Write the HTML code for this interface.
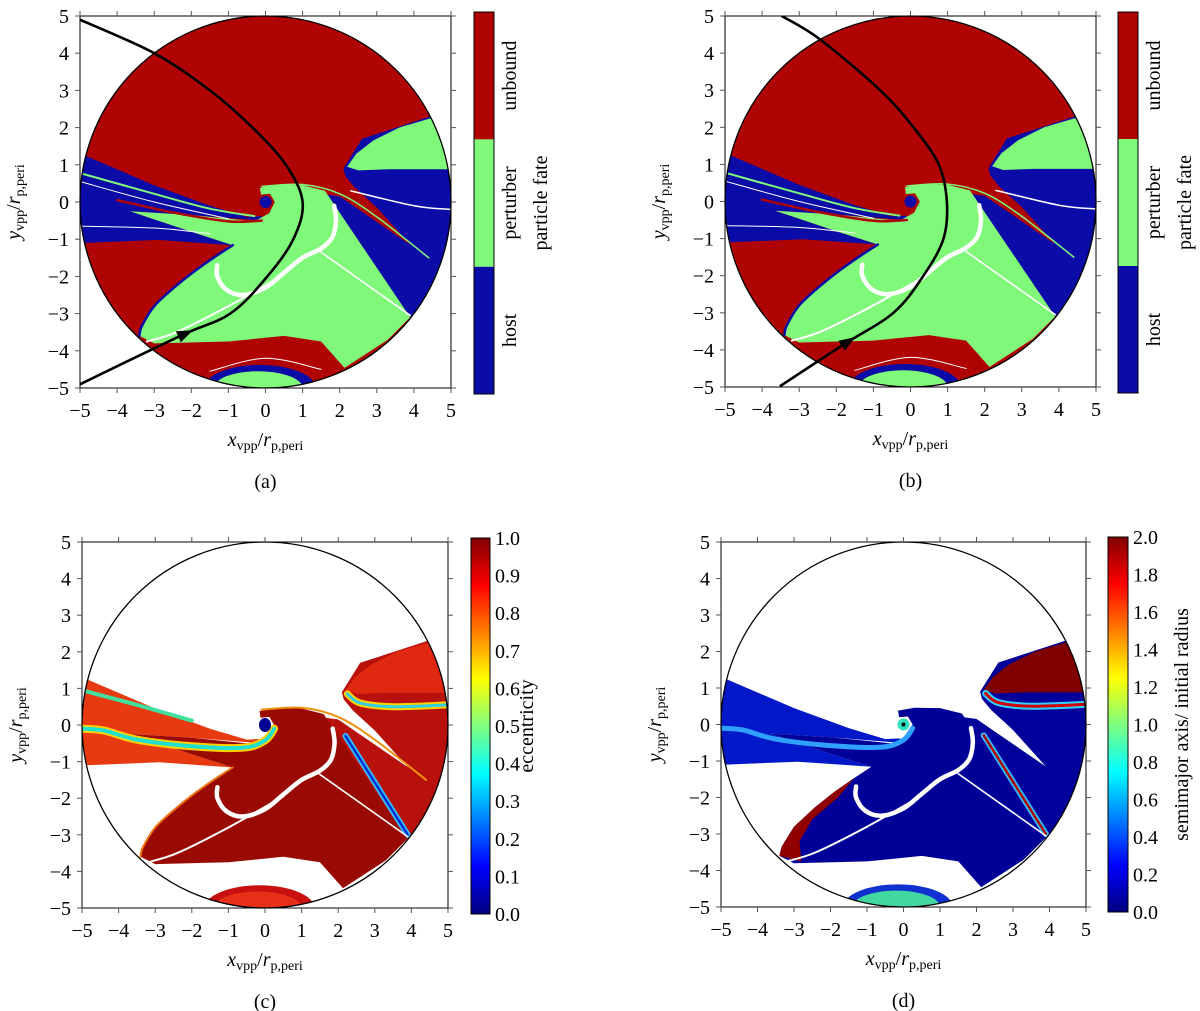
<!DOCTYPE html>
<html><head><meta charset="utf-8"><style>
html,body{margin:0;padding:0;background:#fff;width:1200px;height:1011px;overflow:hidden}
svg{display:block;font-family:"Liberation Serif","DejaVu Serif",serif}
svg text{font-family:"Liberation Serif","DejaVu Serif",serif;fill:#000}
</style></head><body>
<svg id="fig" xmlns="http://www.w3.org/2000/svg" width="1200" height="1011" viewBox="0 0 1200 1011" font-family="Liberation Serif, DejaVu Serif, serif"></svg>
<script>
// ---- data (in x_vpp/r_p,peri units) ----
const axisTicks = [-5,-4,-3,-2,-1,0,1,2,3,4,5];
const axisTickLabels = ["\u22125","\u22124","\u22123","\u22122","\u22121","0","1","2","3","4","5"];
const fateCategories = ["host","perturber","unbound"];
const eccTicks = [0.0,0.1,0.2,0.3,0.4,0.5,0.6,0.7,0.8,0.9,1.0];
const smaTicks = [0.0,0.2,0.4,0.6,0.8,1.0,1.2,1.4,1.6,1.8,2.0];
const blueRight = [[2.1,0.9],[2.6,1.7],[4.45,2.3],[5.3,1.4],[5.4,0],[5.1,-1.8],[4.5,-2.7],[3.9,-3.1],[1.65,0.2],[2.0,0.15],[3.9,-1.15],[3.0,-0.15],[2.4,0.4],[2.15,0.7]];
const greenLobe = [[2.2,0.95],[2.45,1.3],[2.9,1.65],[3.6,2.0],[4.45,2.25],[5.3,1.5],[5.3,0.88],[3.3,0.88],[2.5,0.85]];
const blueLeft = [[-5.5,1.35],[-4.87,1.25],[-3,0.45],[-1.5,-0.1],[-0.5,-0.4],[-0.1,-0.38],[-0.1,-0.5],[-2,-0.35],[-3.65,-0.25],[-3.2,-0.4],[-2.0,-0.8],[-0.88,-1.16],[-2.9,-1.02],[-4.87,-1.1],[-5.5,-1.1]];
const greenMain = [[-3.65,-0.25],[-2,-0.35],[-1.0,-0.45],[-0.3,-0.52],[0.1,-0.3],[0.25,0],[0.12,0.22],[-0.12,0.2],[-0.15,0.38],[0.3,0.46],[1.0,0.45],[1.6,0.3],[3.9,-3.1],[3.3,-3.7],[2.13,-4.46],[1.5,-3.75],[0.5,-3.6],[-1,-3.75],[-3,-3.8],[-3.4,-3.6],[-3.34,-3.35],[-3.0,-2.8],[-2.44,-2.28],[-1.9,-1.85],[-1.36,-1.47],[-0.88,-1.16],[-2.0,-0.8],[-3.2,-0.4]];
const greenLowerEdge = [[-3.4,-3.6],[-3.34,-3.35],[-3.0,-2.8],[-2.44,-2.28],[-1.9,-1.85],[-1.36,-1.47],[-0.88,-1.16]];
const capOuter = [-0.15,-5.0,1.5,0.62];
const capInner = [-0.2,-5.0,1.2,0.45];
const whiteHook = [[1.85,-0.1],[1.9,-0.5],[1.8,-0.95],[1.5,-1.25],[1.0,-1.5],[0.5,-1.9],[0,-2.3],[-0.6,-2.5],[-1.05,-2.36],[-1.3,-2.0],[-1.3,-1.7]];
const whiteLineA = [[1.5,-1.35],[3.9,-3.05]];
const whiteLineB = [[-3.2,-3.75],[-2.4,-3.5],[-1,-2.8],[0.5,-1.95]];
const redThin = [[-4,0.05],[-2.5,-0.28],[-1,-0.52],[-0.1,-0.5]];
const greenThin = [[-4.9,0.75],[-3,0.22],[-1.5,-0.18],[-0.3,-0.38]];
const whiteThin1 = [[-5,0.55],[-3,0.0],[-1,-0.45]];
const whiteThin2 = [[-5,-0.65],[-3,-0.7],[-1.5,-0.85]];
const greenEdgeRight = [[-0.1,0.42],[1,0.47],[2,0.22],[3,-0.4],[4.4,-1.5]];
const whiteThinRight = [[2.3,0.3],[4.0,-0.1],[5,-0.2]];
const trajA = [[-5,4.9],[-3,4],[-1.5,3],[-0.35,2],[0.55,1],[1,0],[0.75,-1],[0.05,-2],[-0.95,-3],[-2.3,-3.6],[-5,-4.9]];
const trajB = [[-3.47,5],[-2.44,4.37],[-0.82,3],[0.08,2],[0.76,1],[0.98,0],[0.89,-1],[0.35,-2],[-0.46,-3],[-1.81,-3.86],[-3.52,-4.98]];
const arrowIndex = 9;
const eccStripeL = [[-5,-0.1],[-4.4,-0.15],[-3.5,-0.4],[-2,-0.58],[-0.6,-0.62],[0,-0.42],[0.25,-0.1]];
const eccStripeTop = [[-5,0.95],[-3.5,0.55],[-2,0.12]];
const stripeRightLobe = [[2.25,0.85],[2.6,0.6],[3.5,0.5],[5,0.55]];
const stripeDiag = [[2.2,-0.3],[3.9,-3.0]];
const smaRedEdge = [[-3.4,-3.6],[-3.34,-3.35],[-3.0,-2.8],[-2.44,-2.28],[-1.9,-1.85],[-1.36,-1.47],[-1.8,-2.0],[-2.5,-2.6],[-2.85,-3.2],[-2.8,-3.75]];

const P = {
 a:{x0:80,x1:451,y0:16,y1:388,cb:[474,12,20,382],cap:"(a)"},
 b:{x0:725,x1:1096,y0:16,y1:387,cb:[1118,12,20,381],cap:"(b)"},
 c:{x0:82,x1:448,y0:542,y1:908,cb:[471,538,19,376],cap:"(c)"},
 d:{x0:721,x1:1086,y0:542,y1:907,cb:[1108,537,20,375],cap:"(d)"}
};
const NS="http://www.w3.org/2000/svg";
const FONT="Liberation Serif, DejaVu Serif, serif";
const svg=document.getElementById('fig');
function mk(tag,attrs,parent){const e=document.createElementNS(NS,tag);for(const k in attrs)e.setAttribute(k,attrs[k]);if(tag==='text')e.setAttribute('font-family',FONT);(parent||svg).appendChild(e);return e;}

const defs=mk('defs',{});
const jet=mk('linearGradient',{id:'jet',x1:'0',y1:'1',x2:'0',y2:'0'},defs);
[[0,'#000080'],[0.125,'#0000ff'],[0.375,'#00ffff'],[0.625,'#ffff00'],[0.875,'#ff0000'],[1,'#800000']].forEach(s=>mk('stop',{offset:s[0],'stop-color':s[1]},jet));

function panel(key,kind){
 const p=P[key];
 const sx=x=>p.x0+(x+5)/10*(p.x1-p.x0);
 const sy=y=>p.y0+(5-y)/10*(p.y1-p.y0);
 const poly=pts=>pts.map((q,i)=>(i?'L':'M')+sx(q[0]).toFixed(1)+' '+sy(q[1]).toFixed(1)).join(' ')+' Z';
 const smooth=pts=>{const q=pts.map(a=>[sx(a[0]),sy(a[1])]);let d='M'+q[0][0]+' '+q[0][1];
  for(let i=0;i<q.length-1;i++){const p0=q[i-1]||q[i],p1=q[i],p2=q[i+1],p3=q[i+2]||p2;
   d+=' C'+(p1[0]+(p2[0]-p0[0])/6)+' '+(p1[1]+(p2[1]-p0[1])/6)+' '+(p2[0]-(p3[0]-p1[0])/6)+' '+(p2[1]-(p3[1]-p1[1])/6)+' '+p2[0]+' '+p2[1];}
  return d;};
 const g=mk('g',{});
 
 
 const cp=mk('clipPath',{id:'clip-'+key},defs);
 const cx=sx(0),cy=sy(0),rx=(p.x1-p.x0)/2,ry=(p.y1-p.y0)/2;
 mk('ellipse',{cx,cy,rx,ry},cp);
 const cr=mk('clipPath',{id:'rect-'+key},defs);
 mk('rect',{x:p.x0,y:p.y0,width:p.x1-p.x0,height:p.y1-p.y0},cr);
 const field=mk('g',{'clip-path':'url(#clip-'+key+')'},g);
 
 
 function region(pts,fill,name){const e=mk('path',{d:poly(pts),fill:fill},field);
  
  return e;}
 function line(pts,col,w,name,op){const e=mk('path',{d:smooth(pts),fill:'none',stroke:col,'stroke-width':w,'stroke-linecap':'round',opacity:op||1},field);
  
  return e;}
 function cap(c,fill,name){const e=mk('ellipse',{cx:sx(c[0]),cy:sy(c[1]),rx:c[2]/10*(p.x1-p.x0),ry:c[3]/10*(p.y1-p.y0),fill:fill},field);
  
  }
 if(kind==='fate'){
  mk('ellipse',{cx,cy,rx,ry,fill:'#b00404'},field);
  region(blueLeft,'#0b0ba8','host-region-left');
  region(blueRight,'#0b0ba8','host-region-right');
  region(greenMain,'#80f97a','perturber-region-main');
  region(greenLobe,'#80f97a','perturber-region-lobe');
  line(greenLowerEdge,'#0b0ba8',2.5,'host-edge');
  cap(capOuter,'#0b0ba8','host-cap');
  cap(capInner,'#80f97a','perturber-cap');
  mk('ellipse',{cx:sx(0),cy:sy(0),rx:6,ry:6,fill:'#0b0ba8'},field);
  line(redThin,'#b00404',2.5,'unbound-filament');
  line(greenThin,'#80f97a',2,'perturber-filament');
  line(whiteThin1,'#fff',1,'gap-filament');
  line(whiteThin2,'#fff',1,'gap-filament');
  line(greenEdgeRight,'#80f97a',1.5,'perturber-filament-right');
  line(whiteThinRight,'#fff',1.5,'gap-filament-right');
  line([[-1.5,-4.55],[0,-4.2],[1.5,-4.5]],'#fff',1,'gap-filament-bottom');
 } else if(kind==='ecc'){
  mk('ellipse',{cx,cy,rx,ry,fill:'#fff'},field);
  region(blueLeft,'#e83a10','ecc-band-left');
  region(blueRight,'#b8100a','ecc-region-right');
  region(greenMain,'#980a02','ecc-region-main');
  region(greenLobe,'#e02810','ecc-lobe');
  line(greenLowerEdge,'#f07010',2,'ecc-edge');
  cap(capOuter,'#c81010','ecc-cap');
  cap(capInner,'#e83018','ecc-cap-inner');
  line(eccStripeL,'#ffd000',8,'ecc-stripe-yellow');
  line(eccStripeL,'#20e0d0',4,'ecc-stripe-cyan');
  line(eccStripeTop,'#40e0a0',4,'ecc-stripe-top');
  line(stripeRightLobe,'#ffd000',7,'ecc-stripe-lobe-yellow');
  line(stripeRightLobe,'#30d0e0',3,'ecc-stripe-lobe');
  line(stripeDiag,'#30c0ff',6,'ecc-stripe-diag-outer');
  line(stripeDiag,'#0030d0',2.5,'ecc-stripe-diag');
  line(greenEdgeRight,'#f09010',2,'ecc-rim');
  mk('ellipse',{cx:sx(0),cy:sy(0),rx:6,ry:7,fill:'#000090'},field);
 } else {
  mk('ellipse',{cx,cy,rx,ry,fill:'#fff'},field);
  region(blueLeft,'#0018c8','sma-band-left');
  region(blueRight,'#00009a','sma-region-right');
  region(greenMain,'#000098','sma-region-main');
  region(greenLobe,'#800000','sma-lobe');
  region(smaRedEdge,'#900000','sma-red-edge');
  cap(capOuter,'#1030d0','sma-cap');
  cap(capInner,'#40d8a0','sma-cap-inner');
  line(eccStripeL,'#30a0ff',5,'sma-stripe');
  line(stripeRightLobe,'#30d0ff',7,'sma-stripe-lobe-outer');
  line(stripeRightLobe,'#d00000',3,'sma-stripe-lobe');
  line(stripeDiag,'#30c0ff',6,'sma-stripe-diag-outer');
  line(stripeDiag,'#b00000',2.5,'sma-stripe-diag');
  mk('ellipse',{cx:sx(0),cy:sy(0),rx:6,ry:6,fill:'#30e0c0'},field);
  mk('ellipse',{cx:sx(0),cy:sy(0),rx:2,ry:2,fill:'#000'},field);
 }
 line(whiteHook,'#fff',4.5,'gap-hook');
 line(whiteLineA,'#fff',1.6,'gap-line');
 line(whiteLineB,'#fff',2,'gap-line');
 const outline=mk('ellipse',{cx,cy,rx,ry,fill:'none',stroke:'#000','stroke-width':1.3},g);
 
 
 if(kind==='fate'){
  const tr=key==='a'?trajA:trajB;
  const tg=mk('g',{'clip-path':'url(#rect-'+key+')'},g);
  const path=mk('path',{d:smooth(tr),fill:'none',stroke:'#000','stroke-width':2.6},tg);
  
  
  const a=tr[arrowIndex],b=tr[arrowIndex-1];
  const ax=sx(a[0]),ay=sy(a[1]);let dx=sx(b[0])-ax,dy=sy(b[1])-ay;const L=Math.hypot(dx,dy);dx/=L;dy/=L;
  const hx=ax+dx*8,hy=ay+dy*8;
  const head=mk('polygon',{points:[hx+dx*6,hy+dy*6,hx-dx*10-dy*6,hy-dy*10+dx*6,hx-dx*10+dy*6,hy-dy*10-dx*6].join(' '),fill:'#000'},tg);
  
  
 }
 // frame & ticks
 const fr=mk('rect',{x:p.x0,y:p.y0,width:p.x1-p.x0,height:p.y1-p.y0,fill:'none',stroke:'#000','stroke-width':1},g);
 
 
 axisTicks.forEach((t,i)=>{
  const X=sx(t),Y=sy(t);
  mk('line',{x1:X,x2:X,y1:p.y1,y2:p.y1+5,stroke:'#555'},g);
  mk('line',{x1:X,x2:X,y1:p.y0,y2:p.y0-5,stroke:'#555'},g);
  mk('line',{x1:p.x0,x2:p.x0-5,y1:Y,y2:Y,stroke:'#555'},g);
  mk('line',{x1:p.x1,x2:p.x1+5,y1:Y,y2:Y,stroke:'#555'},g);
  const xl=mk('text',{x:X,y:p.y1+29,'font-size':20,'text-anchor':'middle'},g);
  xl.textContent=axisTickLabels[i];
  
  
  const yl=mk('text',{x:p.x0-11,y:Y+7,'font-size':20,'text-anchor':'end'},g);
  yl.textContent=axisTickLabels[i];
  
  
 });
 const mx=(p.x0+p.x1)/2;
 const xt=mk('text',{x:mx,y:p.y1+58,'font-size':20,'text-anchor':'middle'},g);
 xt.innerHTML='<tspan font-style="italic">x</tspan><tspan font-size="14" dy="4">vpp</tspan><tspan dy="-4">/</tspan><tspan font-style="italic">r</tspan><tspan font-size="14" dy="4">p,peri</tspan>';
 
 
 const my=(p.y0+p.y1)/2;
 const yt=mk('text',{x:0,y:0,'font-size':20,'text-anchor':'middle',transform:'translate('+(p.x0-60)+','+my+') rotate(-90)'},g);
 yt.innerHTML='<tspan font-style="italic">y</tspan><tspan font-size="14" dy="4">vpp</tspan><tspan dy="-4">/</tspan><tspan font-style="italic">r</tspan><tspan font-size="14" dy="4">p,peri</tspan>';
 
 
 const cap2=mk('text',{x:mx,y:p.y1+100,'font-size':20,'text-anchor':'middle'},g);
 cap2.textContent=p.cap;
 
 
 // colorbar
 const [bx,by,bw,bh]=p.cb;
 const cbg=mk('g',{},g);
 
 
 if(kind==='fate'){
  const cols=['#0b0ba8','#80f97a','#b00404'];
  fateCategories.forEach((c,i)=>{
   const h=bh/fateCategories.length,top=by+bh-(i+1)*h;
   const r=mk('rect',{x:bx,y:top,width:bw,height:h,fill:cols[i]},cbg);
   
   
   const t=mk('text',{'font-size':20,'text-anchor':'middle',transform:'translate('+(bx+bw+22)+','+(top+h/2)+') rotate(-90)'},cbg);
   t.textContent=c;
   
   
  });
  mk('rect',{x:bx,y:by,width:bw,height:bh,fill:'none',stroke:'#000','stroke-width':1},cbg);
  const t=mk('text',{'font-size':20,'text-anchor':'middle',transform:'translate('+(bx+bw+53)+','+(by+bh/2)+') rotate(-90)'},cbg);
  t.textContent='particle fate';
  
  
 } else {
  const ticks=kind==='ecc'?eccTicks:smaTicks;
  const r=mk('rect',{x:bx,y:by,width:bw,height:bh,fill:'url(#jet)',stroke:'#000','stroke-width':1},cbg);
  
  
  const mxv=ticks[ticks.length-1];
  ticks.forEach(v=>{
   const Y=by+bh-(v/mxv)*bh;
   const t=mk('text',{x:bx+bw+5,y:Y+7,'font-size':20},cbg);
   t.textContent=v.toFixed(1);
   
   
  });
  const title=kind==='ecc'?'eccentricity':'semimajor axis/ initial radius';
  const t=mk('text',{'font-size':20,'text-anchor':'middle',transform:'translate('+(bx+bw+(kind==='ecc'?43:60))+','+(by+bh/2)+') rotate(-90)'},cbg);
  t.textContent=title;
  
  
 }
}
panel('a','fate');
panel('b','fate');
panel('c','ecc');
panel('d','sma');
</script>
</body></html>
